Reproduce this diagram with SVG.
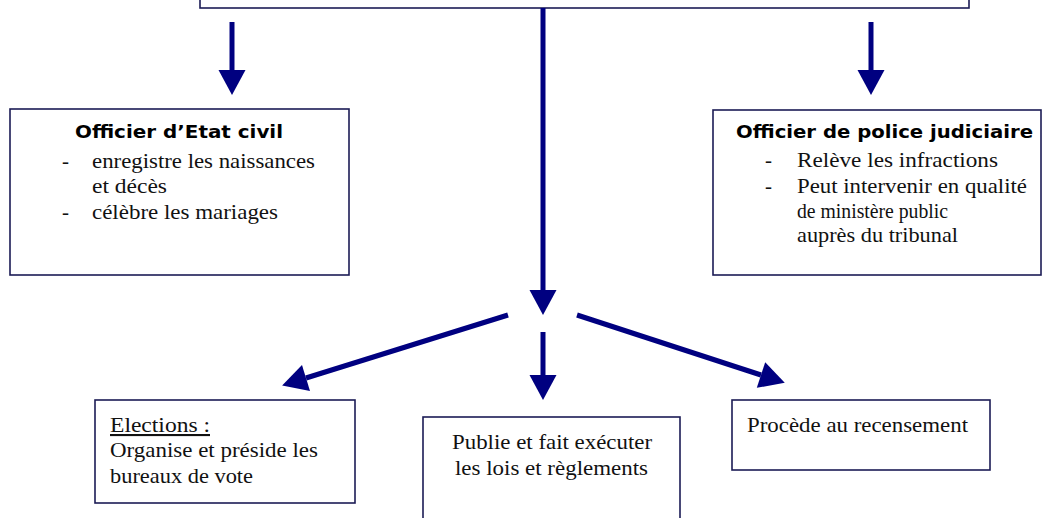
<svg xmlns="http://www.w3.org/2000/svg" width="1049" height="518" viewBox="0 0 1049 518">
<style>
.box{fill:#fff;stroke:#1c1c55;stroke-width:1.6}
.conn{stroke:#000080;stroke-width:5;fill:none;marker-end:url(#ah)}
.title{font-family:"DejaVu Sans",sans-serif;font-weight:bold;font-size:17px;fill:#000}
.t{font-family:'Liberation Serif','DejaVu Serif','Noto Serif',serif;font-size:21px;fill:#111}
</style>
<defs>
<marker id="ah" markerUnits="userSpaceOnUse" viewBox="0 -14 26 28" markerWidth="26" markerHeight="28" refX="0" refY="0" orient="auto" overflow="visible">
<path d="M0,-13.5 L25,0 L0,13.5 z" fill="#000080"/>
</marker>
</defs>
<rect width="1049" height="518" fill="#fff"/>
<g id="top"><rect class="box" x="200" y="-20" width="769" height="28"/></g>
<g id="connectors">
<line class="conn" x1="232" y1="22" x2="232" y2="70"/>
<line class="conn" x1="871" y1="22" x2="871" y2="70"/>
<line class="conn" x1="543" y1="8" x2="543" y2="290"/>
<line class="conn" x1="543" y1="332" x2="543" y2="375"/>
<line class="conn" x1="508" y1="315" x2="306" y2="378"/>
<line class="conn" x1="577" y1="315" x2="761" y2="375"/>
</g>
<g id="etat-civil">
<rect class="box" x="10" y="109" width="339" height="166"/>
<text class="title" x="75" y="138" textLength="208" lengthAdjust="spacingAndGlyphs">Officier d’Etat civil</text>
<text class="t" x="62" y="168">-</text>
<text class="t" x="92" y="168" textLength="223" lengthAdjust="spacingAndGlyphs">enregistre les naissances</text>
<text class="t" x="92" y="193" textLength="75" lengthAdjust="spacingAndGlyphs">et décès</text>
<text class="t" x="62" y="219">-</text>
<text class="t" x="92" y="219" textLength="186" lengthAdjust="spacingAndGlyphs">célèbre les mariages</text>
</g>
<g id="police">
<rect class="box" x="713" y="110" width="328" height="165"/>
<text class="title" x="736" y="138" textLength="297" lengthAdjust="spacingAndGlyphs">Officier de police judiciaire</text>
<text class="t" x="765" y="167">-</text>
<text class="t" x="797" y="167" textLength="201" lengthAdjust="spacingAndGlyphs">Relève les infractions</text>
<text class="t" x="765" y="193">-</text>
<text class="t" x="797" y="193" textLength="230" lengthAdjust="spacingAndGlyphs">Peut intervenir en qualité</text>
<text class="t" x="797" y="218" textLength="151" lengthAdjust="spacingAndGlyphs">de ministère public</text>
<text class="t" x="797" y="242" textLength="161" lengthAdjust="spacingAndGlyphs">auprès du tribunal</text>
</g>
<g id="elections">
<rect class="box" x="95" y="400" width="260" height="103"/>
<text class="t" x="110" y="432" textLength="100" lengthAdjust="spacingAndGlyphs" text-decoration="underline">Elections :</text>
<text class="t" x="110" y="457" textLength="208" lengthAdjust="spacingAndGlyphs">Organise et préside les</text>
<text class="t" x="110" y="483" textLength="143" lengthAdjust="spacingAndGlyphs">bureaux de vote</text>
</g>
<g id="lois">
<rect class="box" x="423" y="417" width="257" height="130"/>
<text class="t" x="452" y="449" textLength="200" lengthAdjust="spacingAndGlyphs">Publie et fait exécuter</text>
<text class="t" x="455" y="475" textLength="193" lengthAdjust="spacingAndGlyphs">les lois et règlements</text>
</g>
<g id="recensement">
<rect class="box" x="732" y="400" width="258" height="70"/>
<text class="t" x="747" y="432" textLength="221" lengthAdjust="spacingAndGlyphs">Procède au recensement</text>
</g>
</svg>
